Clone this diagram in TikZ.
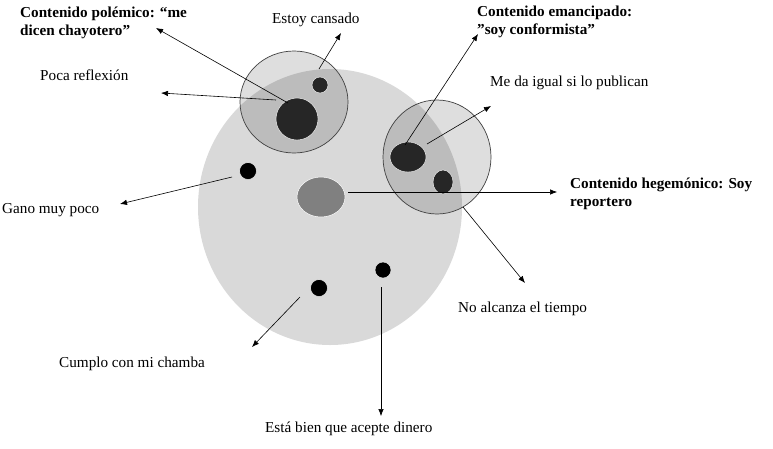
\documentclass[tikz,border=0pt]{standalone}
\usepackage{fontspec}
\setmainfont{Liberation Serif}
\usetikzlibrary{arrows.meta}

\tikzset{
  lbl/.style={anchor=base west, inner sep=0pt, font=\fontsize{15.2}{18}\selectfont},
  boldlbl/.style={lbl, align=left, font=\fontsize{15.2}{17.5}\selectfont\bfseries},
  pointer/.style={-{Latex[length=7pt,width=5.5pt]}, line width=0.6pt},
  subset/.style={fill=black, fill opacity=0.13, draw=black!75, draw opacity=1, line width=0.7pt},
  dot/.style={fill=black!85, draw=white, line width=0.4pt}
}

\begin{document}
\begin{tikzpicture}[x=1pt, y=-1pt]
\useasboundingbox (0,0) rectangle (773,448);

% Big circle
\fill[black!15] (330,207) ellipse (132 and 138);

% Inner circles
\draw[subset] (294,102) ellipse (54 and 51);
\draw[subset] (437,157) ellipse (54 and 57);

% Dots
\draw[dot] (297,119) circle (21);
\draw[dot] (320,85) circle (8);
\draw[dot] (408,157) ellipse (18 and 15);
\draw[dot] (443,182) ellipse (10 and 12);
\draw[fill=black!50, draw=white, line width=0.5pt] (321,197) ellipse (24 and 20);
\draw[dot, fill=black] (248,171) circle (8.5);
\draw[dot, fill=black] (319,288) circle (8.5);
\draw[dot, fill=black] (383,270) circle (8);

% Labels (two-line labels sit on their last baseline)
\node[boldlbl] (polemico) at (20,35) {Contenido polémico: “me\\dicen chayotero”};
\node[lbl] (cansado) at (272,23) {Estoy cansado};
\node[lbl] (poca) at (40,80) {Poca reflexión};
\node[boldlbl] (emancipado) at (477,34) {Contenido emancipado:\\”soy conformista”};
\node[lbl] (igual) at (490,86) {Me da igual si lo publican};
\node[boldlbl] (hegemonico) at (570,206) {Contenido hegemónico: Soy\\reportero};
\node[lbl] (gano) at (2,213) {Gano muy poco};
\node[lbl] (alcanza) at (458,312) {No alcanza el tiempo};
\node[lbl] (cumplo) at (59,367) {Cumplo con mi chamba};
\node[lbl] (dinero) at (265,432) {Está bien que acepte dinero};

% Arrow ends
\coordinate (polemico-a) at (288,103);  \coordinate (polemico-b) at (156,28);
\coordinate (poca-a) at (276,100);      \coordinate (poca-b) at (161,93);
\coordinate (cansado-a) at (319,69);    \coordinate (cansado-b) at (341,33);
\coordinate (emancipado-a) at (405,145);\coordinate (emancipado-b) at (478,34);
\coordinate (igual-a) at (427,144);     \coordinate (igual-b) at (491,106);
\coordinate (hegemonico-a) at (348,192);\coordinate (hegemonico-b) at (557,192);
\coordinate (alcanza-a) at (463,207);   \coordinate (alcanza-b) at (525,283);
\coordinate (gano-a) at (232,177);      \coordinate (gano-b) at (120,204);
\coordinate (cumplo-a) at (300,297);    \coordinate (cumplo-b) at (252,347);
\coordinate (dinero-a) at (381,287);    \coordinate (dinero-b) at (381,416);

% Arrows
\foreach \n in {polemico,poca,cansado,emancipado,igual,hegemonico,alcanza,gano,cumplo,dinero}
  \draw[pointer] (\n-a) -- (\n-b);
\end{tikzpicture}
\end{document}
